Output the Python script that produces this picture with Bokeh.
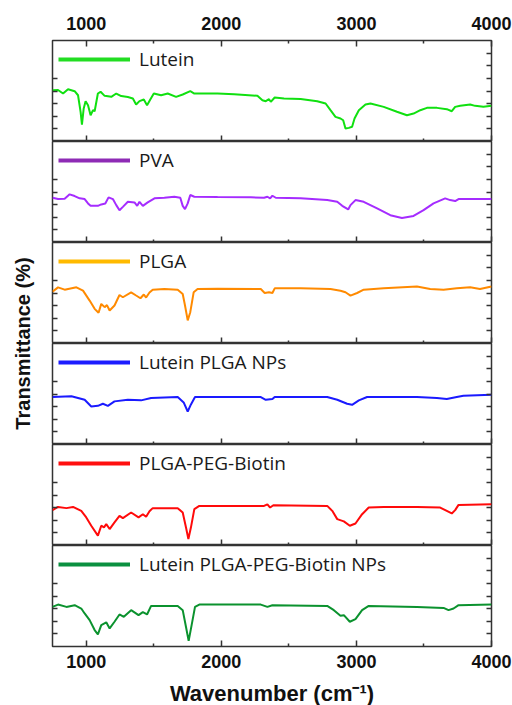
from bokeh.plotting import figure
from bokeh.models import Range1d, LinearAxis, FixedTicker, Legend, LegendItem
from bokeh.layouts import row, column
from bokeh.embed import file_html
from bokeh.resources import INLINE

# ---------------- data ----------------
labels = ["Lutein", "PVA", "PLGA", "Lutein PLGA NPs", "PLGA-PEG-Biotin",
          "Lutein PLGA-PEG-Biotin NPs"]

lutein_wn = [750, 791, 828, 865, 914, 939, 958, 968, 981, 995,
             1013, 1032, 1050, 1062, 1086, 1106, 1136, 1185, 1222, 1259,
             1308, 1345, 1369, 1394, 1426, 1450, 1475, 1500, 1554, 1603,
             1665, 1714, 1770, 1800, 1972, 2095, 2267, 2304, 2329, 2353,
             2366, 2395, 2464, 2587, 2710, 2772, 2808, 2845, 2882, 2902,
             2919, 2944, 2968, 2986, 3018, 3067, 3104, 3202, 3300, 3374,
             3423, 3473, 3522, 3596, 3669, 3706, 3731, 3768, 3842, 3879,
             3940, 4000]
lutein_t = [50.8, 51, 47.5, 51.8, 49.8, 45.8, 29.4, 16.8, 32.7, 39.9,
            35.9, 26, 31, 30, 47.5, 49.2, 45.2, 44.2, 47.5, 45,
            44, 42.6, 36.6, 40, 41.6, 36, 41.9, 47.5, 45.8, 47.5,
            44.2, 46.5, 49.8, 47.5, 47.5, 46.8, 45.2, 40.9, 39.9, 41.9,
            39.3, 43.6, 42.6, 42, 39.9, 37.6, 31, 24.4, 22.8, 21,
            12.9, 13.5, 14.6, 22.8, 31, 36.6, 37.6, 34.3, 29.4, 26,
            27.7, 31, 33.3, 33.3, 32, 30, 34.3, 35.3, 36.6, 35.3,
            34.3, 35.3]

pva_wn = [750, 791, 840, 877, 914, 951, 988, 1013, 1032, 1086,
          1111, 1141, 1165, 1197, 1222, 1246, 1271, 1308, 1357, 1377,
          1394, 1419, 1455, 1505, 1578, 1652, 1696, 1714, 1731, 1751,
          1770, 1800, 1972, 2218, 2316, 2341, 2361, 2378, 2403, 2587,
          2784, 2858, 2895, 2939, 2956, 2993, 3054, 3153, 3251, 3337,
          3423, 3497, 3571, 3657, 3694, 3731, 3756, 3891, 4000]
pva_t = [44.3, 43, 43.3, 47.7, 46, 43.7, 43, 38.7, 36.3, 36.3,
         37.7, 38.7, 44.7, 43, 37, 32, 35.3, 40.3, 39.7, 36.3,
         40.3, 36.3, 39.7, 43.7, 44.3, 45.3, 44.3, 36.3, 33, 38.7,
         47, 45.3, 45, 44.7, 44.3, 45.3, 43.7, 46.3, 44.3, 43.7,
         42, 40.3, 36.3, 32.7, 37, 42, 40.3, 33.7, 27, 24.3,
         26.3, 32, 38.7, 43.7, 42, 41, 43, 43, 43]

plga_wn = [750, 791, 840, 927, 976, 1025, 1062, 1091, 1111, 1136,
           1153, 1173, 1209, 1246, 1271, 1332, 1369, 1401, 1426, 1443,
           1468, 1492, 1578, 1677, 1714, 1731, 1751, 1770, 1795, 1824,
           1972, 2292, 2321, 2353, 2378, 2395, 2587, 2808, 2882, 2919,
           2956, 3005, 3054, 3202, 3448, 3546, 3645, 3743, 3842, 3915,
           4000]
plga_t = [51.3, 55.6, 53.3, 55.6, 52.3, 42.5, 34.3, 30.4, 39.2, 36,
          38, 32.7, 37.6, 48, 45.8, 50.7, 47.5, 44.8, 48.5, 45.5,
          50.5, 53.3, 54, 53.3, 49, 37.6, 22.9, 31, 50.7, 53.9,
          54.3, 53.9, 50, 50.7, 50, 54.6, 54.6, 53.9, 52.3, 50.7,
          47.4, 50, 53.3, 54.6, 56.5, 53.9, 53.3, 54.6, 55.6, 53.9,
          56.5]

lplga_wn = [750, 890, 988, 1037, 1086, 1123, 1160, 1209, 1308, 1406,
            1480, 1677, 1721, 1751, 1775, 1805, 2292, 2329, 2378, 2395,
            2784, 2858, 2931, 2968, 3018, 3079, 3448, 3596, 3669, 3743,
            3792, 4000]
lplga_t = [47, 47.7, 44.3, 37.7, 38.3, 40.3, 38.3, 42.7, 44.3, 43.7,
           46, 47, 41.7, 32.7, 39.7, 47, 47, 44.3, 45, 47,
           47, 44.3, 40.3, 39.3, 43.7, 47, 47, 46, 45, 47,
           48.3, 49.3]

peg_wn = [750, 791, 853, 902, 963, 1000, 1037, 1086, 1111, 1131,
          1148, 1173, 1209, 1246, 1271, 1332, 1387, 1419, 1443, 1468,
          1492, 1677, 1714, 1738, 1756, 1775, 1800, 1837, 2095, 2316,
          2341, 2361, 2385, 2784, 2821, 2858, 2907, 2951, 2993, 3042,
          3091, 3202, 3448, 3620, 3669, 3706, 3731, 3756, 4000]
peg_t = [35, 38.2, 37, 38.2, 34.3, 27.8, 19.6, 9.8, 19.6, 18,
         21.2, 16.3, 22.9, 29.4, 27.1, 32.7, 27.8, 31, 28.5, 34,
         37, 37, 32.7, 18, 6.5, 18, 36, 39.2, 39.2, 39.2,
         40.8, 37.6, 39.9, 39.2, 34.3, 26.1, 23.9, 19.6, 21.8, 31,
         37.6, 38.2, 38.2, 37.6, 34.3, 31.7, 35, 40.2, 40.8]

lpeg_wn = [750, 791, 853, 914, 963, 988, 1025, 1062, 1086, 1111,
           1148, 1173, 1209, 1246, 1278, 1332, 1387, 1419, 1450, 1480,
           1677, 1714, 1738, 1758, 1780, 1805, 1837, 2292, 2341, 2378,
           2784, 2833, 2882, 2907, 2951, 2993, 3042, 3091, 3448, 3645,
           3682, 3719, 3756, 4000]
lpeg_t = [39.2, 41.5, 39.2, 40.9, 37.6, 32.7, 26.1, 16.3, 12, 21.2,
          23.9, 17.9, 24.5, 31.7, 29.4, 36, 31, 34, 31.7, 40.2,
          40.2, 36, 19.6, 5.6, 21.2, 39.2, 41.5, 41.5, 39.2, 40.9,
          40.2, 36, 30.4, 31, 24.5, 27.1, 36, 40.2, 39.2, 38.2,
          36, 37.6, 40.9, 41.5]

spectra_wn = [lutein_wn, pva_wn, plga_wn, lplga_wn, peg_wn, lpeg_wn]
spectra_t = [lutein_t, pva_t, plga_t, lplga_t, peg_t, lpeg_t]

line_colors = ["#10e010", "#a52cff", "#ff8a00", "#1a1aff", "#ff0a0a", "#0b922e"]
legend_colors = ["#22dd22", "#8e2bb5", "#ffba00", "#1c1cff", "#ff1010", "#0a9040"]

x_major = [1000, 2000, 3000, 4000]
x_minor = [1500, 2500, 3500]
y_ticks_right = [12.5, 25, 37.5, 50, 62.5, 75, 87.5]
y_ticks_left = [12.5, 25, 37.5, 50, 62.5]

# ---------------- styling ----------------
BOLD_FONT = "Liberation Sans"
LEG_FONT = "Open Sans"
FRAME = "#333333"
NAN = float("nan")

x_range = Range1d(750, 4000)


def style_ticks(ax):
    ax.axis_line_color = None
    ax.major_tick_in = 6
    ax.major_tick_out = 0
    ax.minor_tick_in = 3
    ax.minor_tick_out = 0
    ax.major_tick_line_color = FRAME
    ax.minor_tick_line_color = FRAME
    ax.major_tick_line_width = 1.5
    ax.minor_tick_line_width = 1.5


def hide_labels(ax, ticks):
    ax.major_label_overrides = {t: "" for t in ticks}
    ax.major_label_text_font_size = "0px"
    ax.major_label_standoff = 0


def x_axis(with_labels):
    ax = LinearAxis(ticker=FixedTicker(ticks=x_major, minor_ticks=x_minor))
    style_ticks(ax)
    if with_labels:
        ax.major_label_text_font = BOLD_FONT
        ax.major_label_text_font_style = "bold"
        ax.major_label_text_font_size = "18px"
        ax.major_label_text_color = "#111111"
    else:
        hide_labels(ax, x_major)
    return ax


def y_axis(ticks):
    ax = LinearAxis(ticker=FixedTicker(ticks=ticks, minor_ticks=[]))
    style_ticks(ax)
    ax.major_tick_in = 5
    hide_labels(ax, ticks)
    return ax


panels = []
n = len(labels)
for i in range(n):
    top = i == 0
    bottom = i == n - 1
    p = figure(frame_width=439, frame_height=101,
               x_range=x_range, y_range=Range1d(0, 100),
               x_axis_location=None, y_axis_location=None,
               output_backend="svg", toolbar_location=None,
               min_border_left=5, min_border_right=21,
               min_border_top=40 if top else 0,
               min_border_bottom=59 if bottom else 0)
    p.grid.grid_line_color = None
    p.outline_line_color = FRAME
    p.outline_line_width = 1.5
    p.background_fill_color = "white"
    p.border_fill_color = "white"

    bax = x_axis(bottom)
    if bottom:
        bax.major_label_standoff = 8
        bax.axis_label = "Wavenumber (cm\u207b\u00b9)"
        bax.axis_label_text_font = BOLD_FONT
        bax.axis_label_text_font_style = "bold"
        bax.axis_label_text_font_size = "22px"
        bax.axis_label_text_color = "#111111"
        bax.axis_label_standoff = 10
    p.add_layout(bax, "below")
    if top:
        tax = x_axis(True)
        tax.major_label_standoff = 11
        p.add_layout(tax, "above")
    p.add_layout(y_axis(y_ticks_left), "left")
    p.add_layout(y_axis(y_ticks_right), "right")

    p.line(spectra_wn[i], spectra_t[i], line_color=line_colors[i], line_width=2)
    # legend-only line (a single NaN point draws nothing in the plot area)
    leg_r = p.line(x=[NAN], y=[NAN], line_color=legend_colors[i], line_width=4)
    legend = Legend(items=[LegendItem(label=labels[i], renderers=[leg_r])],
                    location="top_left")
    legend.margin = 6
    legend.padding = 0
    legend.spacing = 0
    legend.border_line_color = None
    legend.background_fill_alpha = 0
    legend.glyph_width = 72
    legend.glyph_height = 20
    legend.label_height = 20
    legend.label_standoff = 9
    legend.label_text_font = LEG_FONT
    legend.label_text_font_size = "19px"
    legend.label_text_color = "#1a1a1a"
    p.add_layout(legend)
    panels.append(p)

# y label strip
ylab = figure(width=47, height=705, min_border_top=40, min_border_bottom=59,
              min_border_left=37, min_border_right=0,
              x_range=Range1d(0, 1), y_range=Range1d(0, 1),
              x_axis_location=None, y_axis_location=None,
              output_backend="svg", toolbar_location=None)
ylab.outline_line_color = None
ylab.grid.grid_line_color = None
ylab.background_fill_color = "white"
ylab.border_fill_color = "white"
yax = LinearAxis(ticker=FixedTicker(ticks=[0.5], minor_ticks=[]))
yax.axis_line_color = None
yax.major_tick_line_color = None
yax.minor_tick_line_color = None
yax.major_label_overrides = {0.5: ""}
yax.major_label_text_font_size = "0px"
yax.major_label_standoff = 0
yax.major_tick_out = 0
yax.major_tick_in = 0
yax.axis_label = "Transmittance (%)"
yax.axis_label_text_font = BOLD_FONT
yax.axis_label_text_font_style = "bold"
yax.axis_label_text_font_size = "20px"
yax.axis_label_text_color = "#111111"
yax.axis_label_standoff = 4
ylab.add_layout(yax, "left")

layout = row(ylab, column(*panels, spacing=0), spacing=0)

open("out.html", "w").write(file_html(layout, INLINE))
